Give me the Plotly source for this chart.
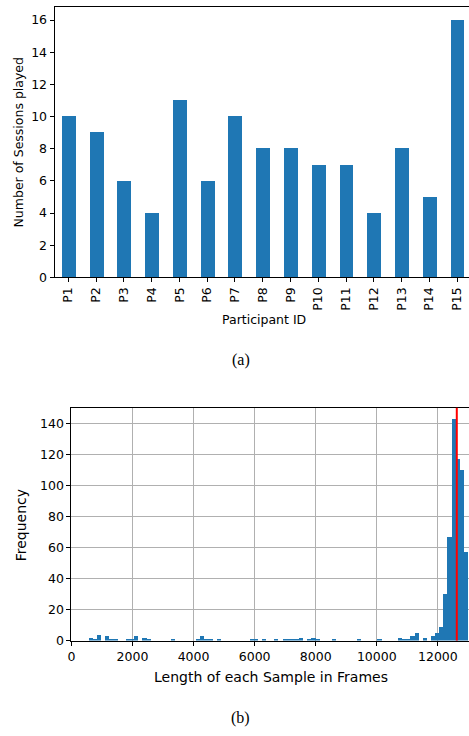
import plotly.graph_objects as go

# ---- Data: chart (a) ----
participants = ["P1", "P2", "P3", "P4", "P5", "P6", "P7", "P8", "P9", "P10",
                "P11", "P12", "P13", "P14", "P15"]
sessions = [10, 9, 6, 4, 11, 6, 10, 8, 8, 7, 7, 4, 8, 5, 16]

# ---- Data: chart (b) histogram ----
hist_first_edge = 584
hist_bin_width = 135
hist_counts = [
    2, 1, 4, 0, 3, 1, 1, 0, 0, 1,      # 0-9
    1, 3, 0, 2, 1, 0, 0, 0, 0, 0,      # 10-19
    1, 0, 0, 0, 0, 0, 1, 3, 1, 1,      # 20-29
    0, 1, 0, 0, 0, 0, 0, 0, 0, 1,      # 30-39
    1, 0, 1, 0, 0, 1, 0, 1, 1, 1,      # 40-49
    1, 2, 0, 1, 2, 1, 0, 0, 0, 1,      # 50-59
    0, 0, 0, 0, 0, 1, 0, 0, 0, 0,      # 60-69
    1, 0, 0, 0, 0, 2, 1, 1, 3, 5,      # 70-79
    0, 2, 0, 3, 5, 9, 30, 67, 143, 117,  # 80-89
    110, 57,                           # 90-91
]
red_line_x = 12620

y1_ticks = [0, 2, 4, 6, 8, 10, 12, 14, 16]
x2_ticks = [0, 2000, 4000, 6000, 8000, 10000, 12000]
y2_ticks = [0, 20, 40, 60, 80, 100, 120, 140]

W, H = 469, 736
BLUE = "#1f77b4"
FONT = "DejaVu Sans"

hist_centers = [hist_first_edge + (i + 0.5) * hist_bin_width for i in range(len(hist_counts))]

fig = go.Figure()
fig.add_trace(go.Bar(x=participants, y=sessions, width=0.5, marker=dict(color=BLUE, line=dict(width=0)),
                     xaxis="x", yaxis="y", showlegend=False))
fig.add_trace(go.Bar(x=hist_centers, y=hist_counts, width=hist_bin_width,
                     marker=dict(color=BLUE, line=dict(width=0)),
                     xaxis="x2", yaxis="y2", showlegend=False))

def px_x(p):
    return p / W

def px_y(p):
    return 1 - p / H

common_axis = dict(showline=True, linecolor="black", linewidth=1, ticks="outside",
                   ticklen=4, tickwidth=1, tickcolor="black", zeroline=False,
                   tickfont=dict(family=FONT, size=12.5, color="black"))

fig.update_layout(
    width=W, height=H, margin=dict(l=0, r=0, t=0, b=0),
    paper_bgcolor="white", plot_bgcolor="white", bargap=0,
    xaxis=dict(domain=[px_x(51), 1], anchor="y", type="category", range=[-0.5, 14.43],
               tickangle=-90, mirror=True, showgrid=False, **common_axis),
    yaxis=dict(domain=[px_y(280), px_y(7.3)], anchor="x", range=[0, 16.8],
               tickvals=y1_ticks, ticktext=[str(v) for v in y1_ticks], showgrid=False, **common_axis),
    xaxis2=dict(domain=[px_x(68), 1], anchor="y2", range=[0, 13020], tickvals=x2_ticks,
                ticktext=[str(v) for v in x2_ticks],
                mirror=True, showgrid=True, gridcolor="#b0b0b0", gridwidth=1, **common_axis),
    yaxis2=dict(domain=[px_y(646.7), px_y(411.7)], anchor="x2", range=[0, 150.2],
                tickvals=y2_ticks, ticktext=[str(v) for v in y2_ticks],
                showgrid=True, gridcolor="#b0b0b0", gridwidth=1, **common_axis),
)

fig.add_shape(type="line", xref="x2", yref="y2 domain", x0=red_line_x, x1=red_line_x,
              y0=0, y1=1, line=dict(color="red", width=2))

ann = []
def add_text(text, x, y, size, family=FONT, angle=0):
    ann.append(dict(text=text, x=x / W, y=1 - y / H, xref="paper", yref="paper",
                    showarrow=False, xanchor="center", yanchor="middle", textangle=angle,
                    font=dict(family=family, size=size, color="black")))

add_text("Participant ID", 262, 323, 12.5)
add_text("Number of Sessions played", 15, 144, 12.5, angle=-90)
add_text("Length of each Sample in Frames", 269, 683, 14)
add_text("Frequency", 17.5, 530, 14, angle=-90)
add_text("(a)", 239, 363, 16, family="Liberation Serif")
add_text("(b)", 239, 725, 16, family="Liberation Serif")
fig.update_layout(annotations=ann)

fig.write_html("out.html", config={"displayModeBar": False},
               post_script="document.body.style.margin='0';document.body.style.overflow='hidden';")
